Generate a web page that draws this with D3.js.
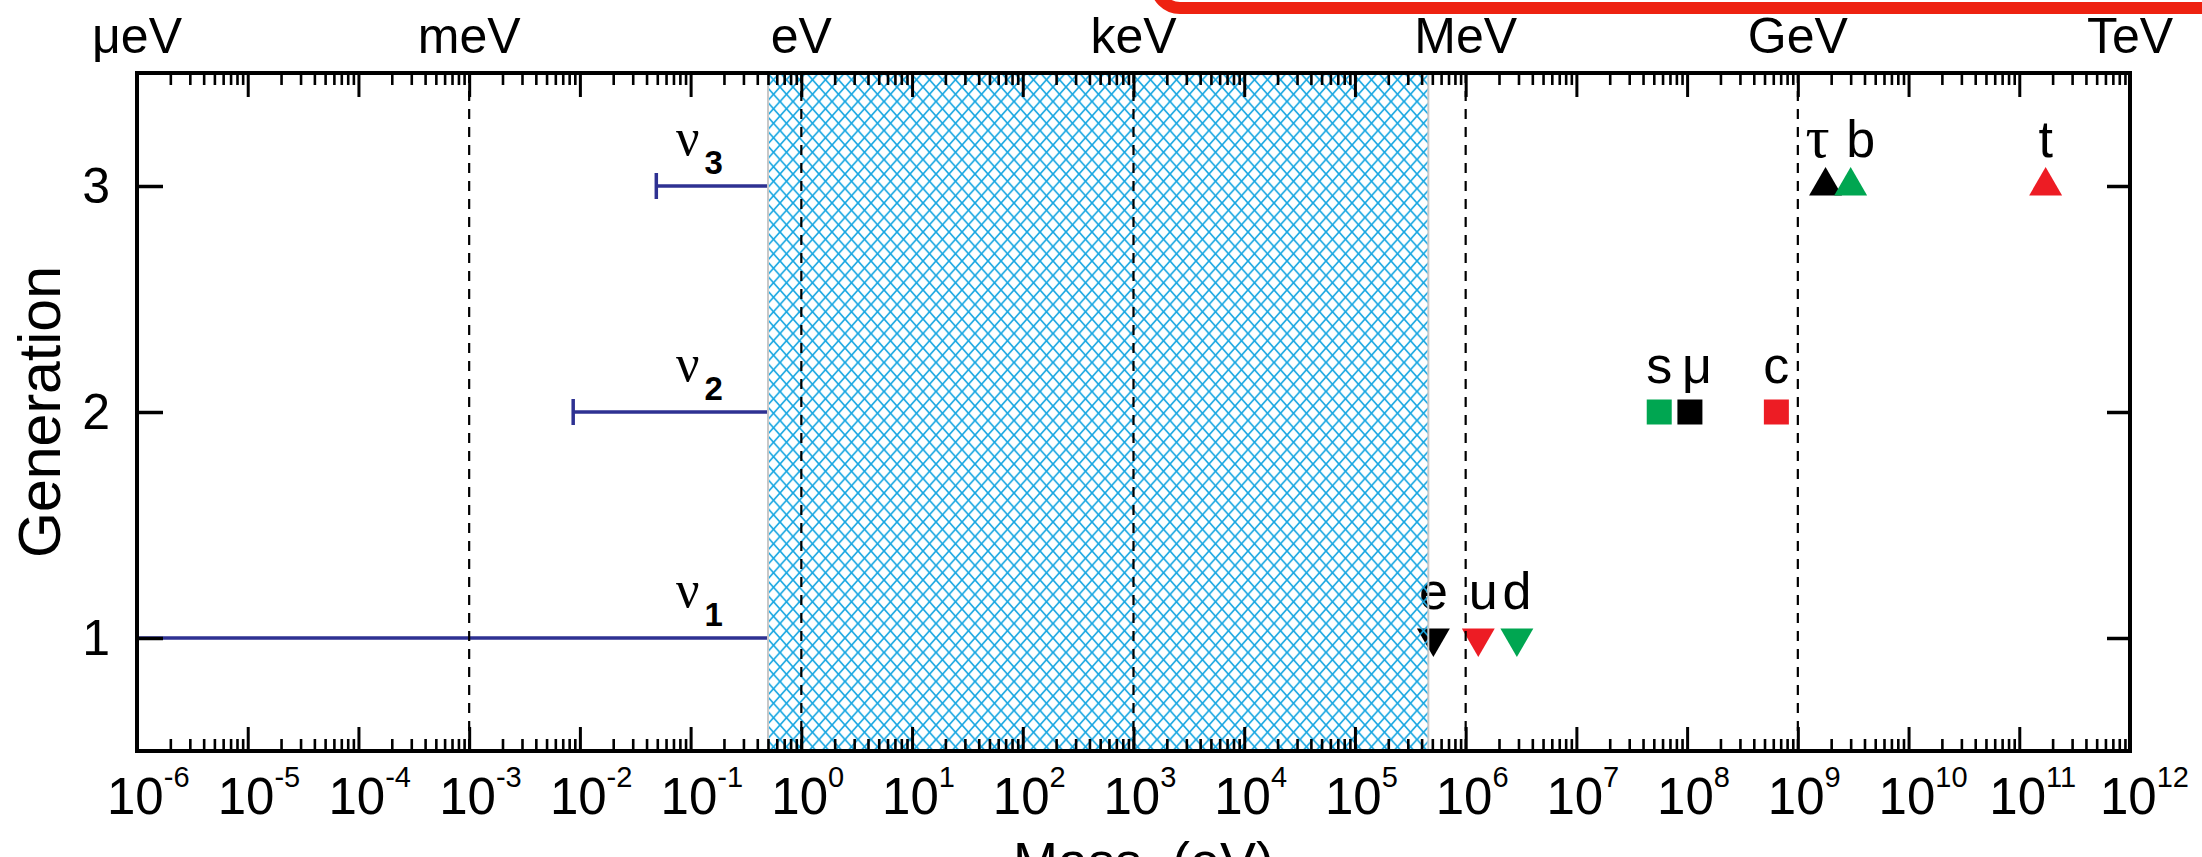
<!DOCTYPE html>
<html>
<head>
<meta charset="utf-8">
<script src="https://cdn.jsdelivr.net/npm/d3@7"></script>
<style>
  body { margin: 0; background: #fff; }
  svg { display: block; }
  text { font-family: "Liberation Sans", Arial, sans-serif; fill: #000; }
</style>
</head>
<body>
<svg id="chart" width="2202" height="857"></svg>
<script>

// x axis: decades of mass in eV
const decadeExponents = [-6, -5, -4, -3, -2, -1, 0, 1, 2, 3, 4, 5, 6, 7, 8, 9, 10, 11, 12]
const unitNames  = ["μeV", "meV", "eV", "keV", "MeV", "GeV", "TeV"]
const unitValues = [1e-6, 1e-3, 1, 1e3, 1e6, 1e9, 1e12]
const genTicks = [1, 2, 3]

// charged fermions
const fermionNames  = ["e", "u", "d", "μ", "c", "s", "τ", "t", "b"]
const fermionMass   = [5.11e5, 1.3e6, 2.9e6, 1.06e8, 6.4e8, 5.6e7, 1.78e9, 1.73e11, 3.0e9]
const fermionGen    = [1, 1, 1, 2, 2, 2, 3, 3, 3]
const fermionType   = ["lepton", "up", "down", "lepton", "up", "down", "lepton", "up", "down"]

// neutrinos: lower bound (0 = none) and common upper bound
const nuNames = ["1", "2", "3"]
const nuGen   = [1, 2, 3]
const nuLower = [0, 8.7e-3, 4.9e-2]
const nuUpper = 0.5

// hatched band
const bandRange = [0.5, 4.6e5]

document.addEventListener("DOMContentLoaded", () => {

  const svg = d3.select("#chart")

  const left = 137, right = 2130, top = 73, bottom = 751

  const x = d3.scaleLog().domain([1e-6, 1e12]).range([left, right])
  const y = d3.scaleLinear().domain([0.5, 3.5]).range([bottom, top])

  const typeColor = { lepton: "#000000", up: "#ed1c24", down: "#00a651" }
  const navy = "#2e3192"
  const serif = "'Liberation Serif', 'DejaVu Serif', serif"

  // hatch pattern
  const defs = svg.append("defs")
  defs.append("pattern")
      .attr("id", "hatch")
      .attr("patternUnits", "userSpaceOnUse")
      .attr("width", 13)
      .attr("height", 14.5)
    .append("path")
      .attr("d", "M0,0L13,14.5M-13,0L0,14.5M13,0L26,14.5M13,0L0,14.5M0,0L-13,14.5M26,0L13,14.5")
      .attr("stroke", "#1ba8e2")
      .attr("stroke-width", 1.7)
      .attr("fill", "none")

  // neutrino mass ranges
  nuNames.forEach((n, i) => {
    const lo = nuLower[i] > 0 ? nuLower[i] : x.domain()[0]
    const yy = y(nuGen[i])
    svg.append("line")
       .attr("x1", x(lo)).attr("x2", x(nuUpper))
       .attr("y1", yy).attr("y2", yy)
       .attr("stroke", navy).attr("stroke-width", 3.5)
    if (nuLower[i] > 0) {
      svg.append("line")
         .attr("x1", x(lo)).attr("x2", x(lo))
         .attr("y1", yy - 13).attr("y2", yy + 13)
         .attr("stroke", navy).attr("stroke-width", 3.5)
    }
    const lbl = svg.append("text")
                   .attr("x", x(nuUpper) - 92)
                   .attr("y", yy - 31)
    lbl.append("tspan")
       .text("ν")
       .style("font-family", serif)
       .attr("font-size", 52)
    lbl.append("tspan")
       .text(n)
       .attr("dx", 5)
       .attr("dy", 19)
       .attr("font-size", 33)
       .attr("font-weight", "bold")
  })

  // fermion markers
  const symbolFor = g => g === 2 ? d3.symbolSquare : d3.symbolTriangle
  const sizeFor = g => g === 2 ? 625 : 470
  const nudge = { "τ": -8, "b": 10, "μ": 7, "u": 5 }

  fermionNames.forEach((n, i) => {
    const g = fermionGen[i]
    const cx = x(fermionMass[i]), cy = y(g)
    svg.append("path")
       .attr("d", d3.symbol().type(symbolFor(g)).size(sizeFor(g))())
       .attr("transform", `translate(${cx},${cy})` + (g === 1 ? " rotate(180)" : ""))
       .attr("fill", typeColor[fermionType[i]])
    svg.append("text")
       .text(n)
       .attr("x", cx + (nudge[n] || 0))
       .attr("y", cy - 29)
       .attr("text-anchor", "middle")
       .attr("font-size", n === "τ" ? 60 : 52)
       .style("font-family", n === "τ" ? serif : null)
  })

  // hatched band
  svg.append("rect")
     .attr("x", x(bandRange[0]))
     .attr("width", x(bandRange[1]) - x(bandRange[0]))
     .attr("y", top)
     .attr("height", bottom - top)
     .attr("fill", "url(#hatch)")
     .attr("stroke", "#c8c8c8")
     .attr("stroke-width", 2)

  // dashed unit boundaries
  svg.selectAll(".unitline")
     .data(unitValues.slice(1, -1))
     .enter()
     .append("line")
     .attr("class", "unitline")
     .attr("x1", d => x(d)).attr("x2", d => x(d))
     .attr("y1", top).attr("y2", bottom)
     .attr("stroke", "#000")
     .attr("stroke-width", 2.2)
     .attr("stroke-dasharray", "10,8")

  // axes (ticks pointing inward)
  const majors = decadeExponents.map(e => Math.pow(10, e))
  const minors = []
  decadeExponents.slice(0, -1).forEach(e => {
    for (let k = 2; k <= 9; k++) minors.push(k * Math.pow(10, e))
  })

  const drawAxis = (axis, tx, ty, sw) => {
    const g = svg.append("g")
                 .attr("transform", `translate(${tx},${ty})`)
                 .call(axis)
    g.select(".domain").remove()
    g.selectAll(".tick line").attr("stroke", "#000").attr("stroke-width", sw)
    g.selectAll(".tick text").remove()
  }

  drawAxis(d3.axisBottom(x).tickValues(majors).tickSize(-24).tickFormat(""), 0, bottom, 3)
  drawAxis(d3.axisBottom(x).tickValues(minors).tickSize(-12).tickFormat(""), 0, bottom, 2.6)
  drawAxis(d3.axisTop(x).tickValues(majors).tickSize(-24).tickFormat(""), 0, top, 3)
  drawAxis(d3.axisTop(x).tickValues(minors).tickSize(-12).tickFormat(""), 0, top, 2.6)
  drawAxis(d3.axisLeft(y).tickValues(genTicks).tickSize(-26).tickFormat(""), left, 0, 3.5)
  drawAxis(d3.axisRight(y).tickValues(genTicks).tickSize(-23).tickFormat(""), right, 0, 3.5)

  // frame
  svg.append("rect")
     .attr("x", left).attr("y", top)
     .attr("width", right - left).attr("height", bottom - top)
     .attr("fill", "none")
     .attr("stroke", "#000")
     .attr("stroke-width", 4)

  // bottom tick labels 10^n
  decadeExponents.forEach(e => {
    const t = svg.append("text")
                 .attr("x", x(Math.pow(10, e)) - 30)
                 .attr("y", 814)
                 .attr("font-size", 51)
    t.append("tspan").text("10")
    t.append("tspan").text(e).attr("dy", -27).attr("font-size", 29)
  })

  // unit labels on top
  unitNames.forEach((u, i) => {
    svg.append("text")
       .text(u)
       .attr("x", x(unitValues[i]))
       .attr("y", 53)
       .attr("text-anchor", "middle")
       .attr("font-size", 50)
  })

  // generation tick labels
  genTicks.forEach(g => {
    svg.append("text")
       .text(g)
       .attr("x", 110)
       .attr("y", y(g) + 17)
       .attr("text-anchor", "end")
       .attr("font-size", 50)
  })

  // axis titles
  svg.append("text")
     .text("Generation")
     .attr("transform", `translate(60,${(top + bottom) / 2}) rotate(-90)`)
     .attr("text-anchor", "middle")
     .attr("font-size", 59)

  svg.append("text")
     .text("Mass  (eV)")
     .attr("x", (left + right) / 2 + 10)
     .attr("y", 880)
     .attr("text-anchor", "middle")
     .attr("font-size", 54)
     .style("white-space", "pre")

  // red highlight frame, cut by the top edge
  const r = 24, rx0 = 1156, ry = 8
  svg.append("path")
     .attr("d", `M${rx0},-60L${rx0},${ry - r}A${r},${r} 0 0 0 ${rx0 + r},${ry}L2260,${ry}`)
     .attr("fill", "none")
     .attr("stroke", "#ee2211")
     .attr("stroke-width", 12)

})
</script>
</body>
</html>
